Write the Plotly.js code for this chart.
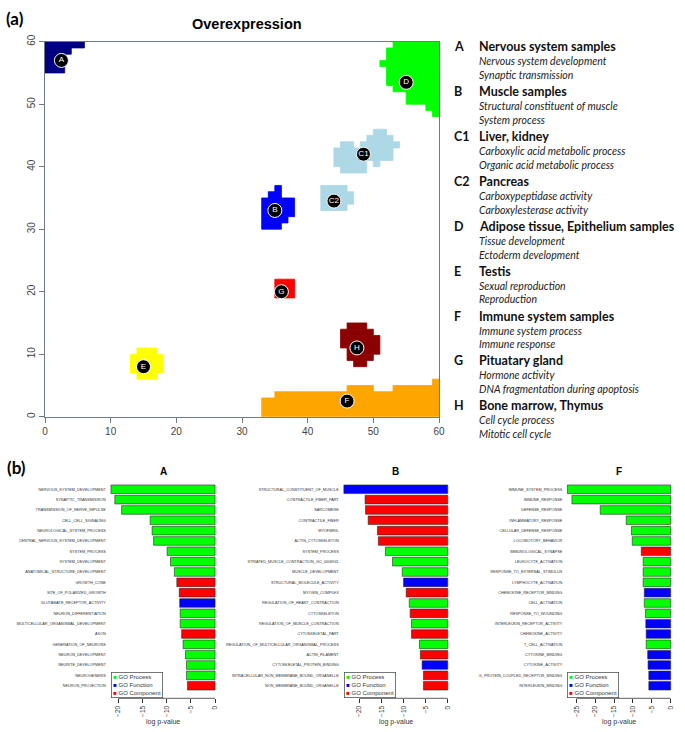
<!DOCTYPE html>
<html>
<head>
<meta charset="utf-8">
<script src="https://cdn.plot.ly/plotly-3.0.1.min.js"></script>
<style>html,body{margin:0;padding:0;background:#fff;}#chart{width:685px;height:732px;}</style>
</head>
<body>
<div id="chart"></div>
<script>
// ---------- DATA: panel (a) self-organising map clusters (cells on a 60x60 grid: [x0,x1,y0,y1]) ----------
const clusterNames = ["A","B","C1","C2","D","E","F","G","H"];
const clusterColors = ["#000080","#0000FF","#ADD8E6","#ADD8E6","#00FF00","#FFFF00","#FFA500","#FF0000","#8B0000"];
const cellsA  = [[0,6,59,60],[0,4,58,59],[0,3,55,58]];
const cellsB  = [[35,36,36,37],[34,36,35,36],[33,38,32,35],[33,37,31,32],[33,36,30,31]];
const cellsC1 = [[50,52,45,46],[49,53,44,45],[45,47,43,44],[48,54,43,44],[44,53,41,43],[44,49,40,41],[50,51,40,41],[45,49,39,40]];
const cellsC2 = [[42,46,33,37],[46,47,34,36]];
const cellsD  = [[53,60,59,60],[52,60,57,59],[51,60,56,57],[52,60,53,56],[53,60,52,53],[55,60,50,52],[58,60,49,50],[59,60,48,49]];
const cellsE  = [[14,17,10,11],[13,18,7,10],[14,17,6,7]];
const cellsF  = [[33,35,0,3],[35,46,0,4],[46,50,0,5],[50,53,0,4],[53,59,0,5],[59,60,0,6]];
const cellsG  = [[35,38,19,22]];
const cellsH  = [[46,49,14,15],[45,50,13,14],[45,51,11,13],[46,51,10,11],[46,50,9,10],[47,49,8,9]];
const clusterCells = [cellsA,cellsB,cellsC1,cellsC2,cellsD,cellsE,cellsF,cellsG,cellsH];
const labelX = [2.5,35,48.5,44,55,15,46,36,47.5];
const labelY = [57,33,42,34.5,53.5,8,2.5,20,11];
const mapTicks = [0,10,20,30,40,50,60];

// ---------- DATA: panel (a) key ----------
const keyLetters = ["A","B","C1","C2","D","E","F","G","H"];
const keyTitles = ["Nervous system samples","Muscle samples","Liver, kidney","Pancreas","Adipose tissue, Epithelium samples","Testis","Immune system samples","Pituatary gland","Bone marrow, Thymus"];
const keyTerms1 = ["Nervous system development","Structural constituent of muscle","Carboxylic acid metabolic process","Carboxypeptidase activity","Tissue development","Sexual reproduction","Immune system process","Hormone activity","Cell cycle process"];
const keyTerms2 = ["Synaptic transmission","System process","Organic acid metabolic process","Carboxylesterase activity","Ectoderm development","Reproduction","Immune response","DNA fragmentation during apoptosis","Mitotic cell cycle"];

// ---------- DATA: panel (b) GO enrichment ----------
const termsA = ["NERVOUS_SYSTEM_DEVELOPMENT","SYNAPTIC_TRANSMISSION","TRANSMISSION_OF_NERVE_IMPULSE","CELL_CELL_SIGNALING","NEUROLOGICAL_SYSTEM_PROCESS","CENTRAL_NERVOUS_SYSTEM_DEVELOPMENT","SYSTEM_PROCESS","SYSTEM_DEVELOPMENT","ANATOMICAL_STRUCTURE_DEVELOPMENT","GROWTH_CONE","SITE_OF_POLARIZED_GROWTH","GLUTAMATE_RECEPTOR_ACTIVITY","NEURON_DIFFERENTIATION","MULTICELLULAR_ORGANISMAL_DEVELOPMENT","AXON","GENERATION_OF_NEURONS","NEURON_DEVELOPMENT","NEURITE_DEVELOPMENT","NEUROGENESIS","NEURON_PROJECTION"];
const logpA  = [-21.5,-20.7,-19.3,-13.4,-13.0,-12.7,-9.9,-9.2,-8.4,-7.9,-7.4,-7.3,-7.2,-7.2,-6.9,-6.6,-6.1,-5.9,-5.9,-5.7];
const typeA  = ["P","P","P","P","P","P","P","P","P","C","C","F","P","P","C","P","P","P","P","C"];

const termsB = ["STRUCTURAL_CONSTITUENT_OF_MUSCLE","CONTRACTILE_FIBER_PART","SARCOMERE","CONTRACTILE_FIBER","MYOFIBRIL","ACTIN_CYTOSKELETON","SYSTEM_PROCESS","STRIATED_MUSCLE_CONTRACTION_GO_0006941","MUSCLE_DEVELOPMENT","STRUCTURAL_MOLECULE_ACTIVITY","MYOSIN_COMPLEX","REGULATION_OF_HEART_CONTRACTION","CYTOSKELETON","REGULATION_OF_MUSCLE_CONTRACTION","CYTOSKELETAL_PART","REGULATION_OF_MULTICELLULAR_ORGANISMAL_PROCESS","ACTIN_FILAMENT","CYTOSKELETAL_PROTEIN_BINDING","INTRACELLULAR_NON_MEMBRANE_BOUND_ORGANELLE","NON_MEMBRANE_BOUND_ORGANELLE"];
const logpB  = [-23.5,-18.7,-18.6,-18.0,-15.9,-15.7,-14.1,-12.5,-10.3,-10.0,-9.4,-8.7,-8.5,-8.2,-8.2,-6.4,-6.2,-5.8,-5.5,-5.5];
const typeB  = ["F","C","C","C","C","C","P","P","P","F","C","P","C","P","C","P","C","F","C","C"];

const termsF = ["IMMUNE_SYSTEM_PROCESS","IMMUNE_RESPONSE","DEFENSE_RESPONSE","INFLAMMATORY_RESPONSE","CELLULAR_DEFENSE_RESPONSE","LOCOMOTORY_BEHAVIOR","IMMUNOLOGICAL_SYNAPSE","LEUKOCYTE_ACTIVATION","RESPONSE_TO_EXTERNAL_STIMULUS","LYMPHOCYTE_ACTIVATION","CHEMOKINE_RECEPTOR_BINDING","CELL_ACTIVATION","RESPONSE_TO_WOUNDING","INTERLEUKIN_RECEPTOR_ACTIVITY","CHEMOKINE_ACTIVITY","T_CELL_ACTIVATION","CYTOKINE_BINDING","CYTOKINE_ACTIVITY","G_PROTEIN_COUPLED_RECEPTOR_BINDING","INTERLEUKIN_BINDING"];
const logpF  = [-27.4,-26.2,-18.7,-11.8,-10.4,-10.2,-7.8,-7.3,-7.3,-7.3,-7.0,-7.0,-6.7,-6.6,-6.5,-6.5,-6.1,-6.0,-5.8,-5.8];
const typeF  = ["P","P","P","P","P","P","C","P","P","P","F","P","P","F","F","P","F","F","F","F"];

const ticksA = [-20,-15,-10,-5,0];
const ticksB = [-20,-15,-10,-5,0];
const ticksF = [-25,-20,-15,-10,-5,0];

const goTypes  = ["P","F","C"];
const goNames  = ["GO Process","GO Function","GO Component"];
const goColors = ["#00FF00","#0000FF","#FF0000"];

// ---------- LAYOUT HELPERS ----------
const W = 685, H = 732;
const fx = p => p / W;
const fy = p => 1 - p / H;
const colorOf = t => goColors[goTypes.indexOf(t)];

const traces = [];
const shapes = [];
const annotations = [];

// Panel (a): cluster cells as rectangles in data coordinates
clusterCells.forEach((cells, i) => {
  cells.forEach(c => {
    shapes.push({type:"rect", xref:"x", yref:"y", x0:c[0], x1:c[1], y0:c[2], y1:c[3],
      fillcolor:clusterColors[i], line:{color:clusterColors[i], width:0.8}, layer:"below"});
  });
});
traces.push({
  type:"scatter", mode:"markers+text", xaxis:"x", yaxis:"y",
  x:labelX, y:labelY, text:clusterNames, textposition:"middle center",
  textfont:{family:"Liberation Sans, Arial", size:8, color:"#fff"},
  marker:{size:14, color:"#000", line:{color:"#fff", width:1}},
  hoverinfo:"skip", showlegend:false, cliponaxis:false
});

// Key text
const keyY = [46.7,91.7,136.7,181.7,226.7,271,316,360.7,405.7];
keyLetters.forEach((L, i) => {
  const y0 = keyY[i];
  annotations.push({xref:"paper", yref:"paper", x:fx(452), y:fy(y0), xanchor:"left", yanchor:"middle",
    text:"<b>"+L+"</b>", showarrow:false, font:{family:"Lato", size:12.5, color:"#111"}});
  annotations.push({xref:"paper", yref:"paper", x:fx(476.5), y:fy(y0), xanchor:"left", yanchor:"middle",
    text:"<b>"+keyTitles[i]+"</b>", showarrow:false, font:{family:"Lato", size:12.5, color:"#111"}});
  annotations.push({xref:"paper", yref:"paper", x:fx(477), y:fy(y0+14.5), xanchor:"left", yanchor:"middle",
    text:"<i>"+keyTerms1[i]+"</i>", showarrow:false, font:{family:"Lato", size:10.5, color:"#222"}});
  annotations.push({xref:"paper", yref:"paper", x:fx(477), y:fy(y0+28), xanchor:"left", yanchor:"middle",
    text:"<i>"+keyTerms2[i]+"</i>", showarrow:false, font:{family:"Lato", size:10.5, color:"#222"}});
});

annotations.push({xref:"paper", yref:"paper", x:fx(4), y:fy(19), xanchor:"left", yanchor:"middle",
  text:"<b>(a)</b>", showarrow:false, font:{family:"Lato", size:17, color:"#000"}});
annotations.push({xref:"paper", yref:"paper", x:fx(247), y:fy(24), xanchor:"center", yanchor:"middle",
  text:"<b>Overexpression</b>", showarrow:false, font:{family:"Liberation Sans, Arial", size:14.5, color:"#000"}});
annotations.push({xref:"paper", yref:"paper", x:fx(5), y:fy(467), xanchor:"left", yanchor:"middle",
  text:"<b>(b)</b>", showarrow:false, font:{family:"Lato", size:17, color:"#000"}});

// Panel (b): three horizontal bar charts
const panels = [
  {name:"A", terms:termsA, vals:logpA, types:typeA, ticks:ticksA, xd:[106.8,219.2], ax:"2"},
  {name:"B", terms:termsB, vals:logpB, types:typeB, ticks:ticksB, xd:[339.7,451.9], ax:"3"},
  {name:"F", terms:termsF, vals:logpF, types:typeF, ticks:ticksF, xd:[563.3,674.8], ax:"4"}
];
const barTop = 476.7, barBot = 698.3;

const layout = {
  width:W, height:H, margin:{l:0,r:0,t:0,b:0},
  paper_bgcolor:"#fff", plot_bgcolor:"rgba(0,0,0,0)",
  showlegend:false, bargap:0.167,
  font:{family:"Liberation Sans, Arial", color:"#333"},
  xaxis:{domain:[fx(45),fx(439)], range:[0,60], anchor:"y", tickvals:mapTicks, ticks:"outside", ticklen:5,
    tickcolor:"#707a85", showline:true, linecolor:"#707a85", linewidth:1.2, mirror:true, showgrid:false, zeroline:false,
    tickfont:{family:"Liberation Sans, Arial", size:10, color:"#444"}, fixedrange:true},
  yaxis:{domain:[fy(416.7),fy(41.7)], range:[0,60], anchor:"x", tickvals:mapTicks, ticks:"outside", ticklen:5,
    tickcolor:"#707a85", showline:true, linecolor:"#707a85", linewidth:1.2, mirror:true, showgrid:false, zeroline:false,
    tickangle:-90, tickfont:{family:"Liberation Sans, Arial", size:10, color:"#444"}, fixedrange:true},
  shapes:shapes, annotations:annotations
};

panels.forEach(p => {
  const xa = "xaxis"+p.ax, ya = "yaxis"+p.ax;
  const mn = Math.min(...p.vals);
  const pad = -mn * 0.04;
  traces.push({
    type:"bar", orientation:"h", xaxis:"x"+p.ax, yaxis:"y"+p.ax,
    x:p.vals, y:p.terms,
    marker:{color:p.types.map(colorOf), line:{color:"#2a2a2a", width:0.6}},
    hoverinfo:"x+y", showlegend:false
  });
  layout[xa] = {domain:[fx(p.xd[0]),fx(p.xd[1])], range:[mn - pad, pad], anchor:"y"+p.ax,
    tickvals:p.ticks, ticks:"outside", ticklen:4, tickcolor:"#333", showline:false, showgrid:false, zeroline:false,
    tickangle:-90, tickfont:{family:"Liberation Sans, Arial", size:6.5, color:"#333"}, fixedrange:true};
  layout[ya] = {domain:[fy(barBot),fy(barTop)], anchor:"x"+p.ax, type:"category",
    range:[p.terms.length - 1 + 1.217, -1.217], showline:false, showgrid:false, zeroline:false, ticks:"",
    tickfont:{family:"Liberation Sans, Arial", size:3.8, color:"#333"}, automargin:false, fixedrange:true};
  // axis line spanning the tick range (R style)
  shapes.push({type:"line", xref:"x"+p.ax, yref:"paper", x0:Math.min(...p.ticks), x1:Math.max(...p.ticks),
    y0:fy(barBot), y1:fy(barBot), line:{color:"#333", width:0.8}});
  const cx = (p.xd[0] + p.xd[1]) / 2;
  annotations.push({xref:"paper", yref:"paper", x:fx(cx), y:fy(471), xanchor:"center", yanchor:"middle",
    text:"<b>"+p.name+"</b>", showarrow:false, font:{family:"Liberation Sans, Arial", size:10, color:"#000"}});
  annotations.push({xref:"paper", yref:"paper", x:fx(cx), y:fy(722), xanchor:"center", yanchor:"middle",
    text:"log p-value", showarrow:false, font:{family:"Liberation Sans, Arial", size:7, color:"#333"}});
  // GO legend box
  const legText = goNames.map((n,i) => '<span style="color:'+goColors[i]+'">■</span> '+n).join("<br>");
  annotations.push({xref:"paper", yref:"paper", x:fx(p.xd[0]+4), y:fy(barBot), xanchor:"left", yanchor:"bottom",
    text:legText, showarrow:false, align:"left", bgcolor:"#fff", bordercolor:"#555", borderwidth:0.8, borderpad:1.5,
    font:{family:"Liberation Sans, Arial", size:6, color:"#333"}});
});

Plotly.newPlot("chart", traces, layout, {staticPlot:true, displayModeBar:false});
</script>
</body>
</html>
